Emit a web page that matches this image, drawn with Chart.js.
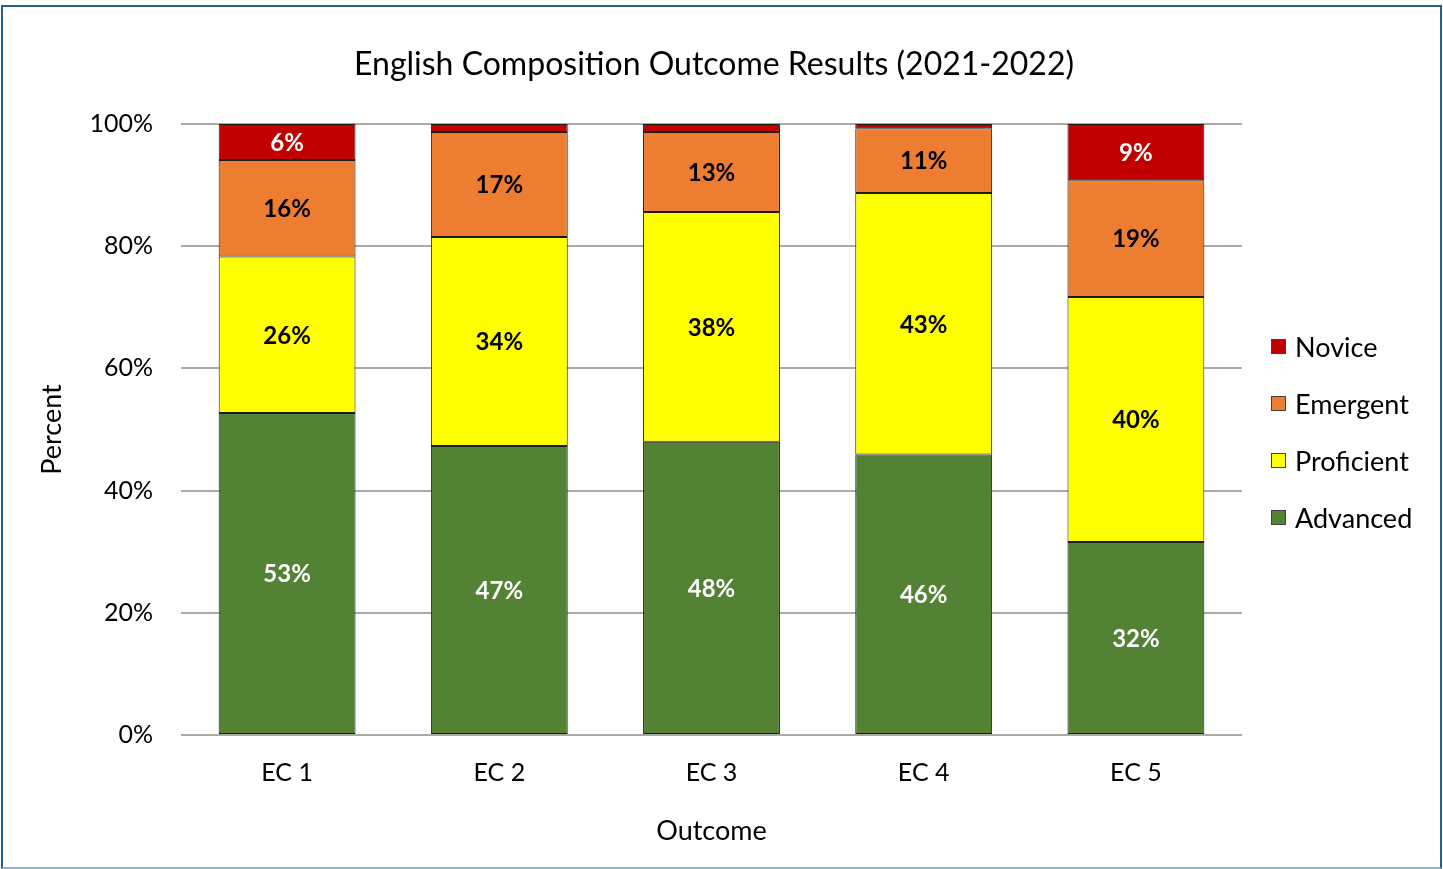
<!DOCTYPE html>
<html>
<head>
<meta charset="utf-8">
<script src="https://cdn.jsdelivr.net/npm/chart.js@4.4.1/dist/chart.umd.min.js"></script>
<style>
  html, body { margin: 0; padding: 0; background: #fff; }
  #wrap { position: relative; width: 1443px; height: 869px; }
  #c { position: absolute; left: 0; top: 0; }
  #frame { position: absolute; left: 1px; top: 5px; width: 1441px; height: 864px; box-sizing: border-box;
           border: 2px solid #1F5F99; border-bottom-color: #8FB3D3; pointer-events: none; }
</style>
</head>
<body>
<div id="wrap">
  <canvas id="c" width="1443" height="869"></canvas>
  <div id="frame"></div>
</div>
<script>
const categories = ["EC 1", "EC 2", "EC 3", "EC 4", "EC 5"];
const seriesNames = ["Advanced", "Proficient", "Emergent", "Novice"];
const advanced   = [52.7, 47.3, 48.0, 45.9, 31.6];
const proficient = [25.6, 34.2, 37.6, 42.8, 40.1];
const emergent   = [15.8, 17.2, 13.1, 10.6, 19.1];
const novice     = [5.9, 1.3, 1.3, 0.7, 9.2];
const yTicks = [0, 20, 40, 60, 80, 100];
const titleText = "English Composition Outcome Results (2021-2022)";
const xTitle = "Outcome";
const yTitle = "Percent";

const colors = ["#548235", "#FFFF00", "#ED7D31", "#C00000"];
const labelColors = ["#FFFFFF", "#000000", "#000000", "#FFFFFF"];
const FONT = "Lato, 'Open Sans', sans-serif";

const seriesData = [advanced, proficient, emergent, novice];

const dataLabelPlugin = {
  id: 'dataLabels',
  afterDatasetsDraw(chart) {
    const ctx = chart.ctx;
    ctx.save();
    ctx.font = "bold 24px " + FONT;
    ctx.textAlign = "center";
    ctx.textBaseline = "middle";
    chart.data.datasets.forEach((ds, i) => {
      const meta = chart.getDatasetMeta(i);
      meta.data.forEach((el, j) => {
        const v = ds.data[j];
        if (v < 4) return;
        const cy = (el.y + el.base) / 2 + 1;
        ctx.fillStyle = labelColors[i];
        ctx.fillText(Math.round(v) + "%", el.x, cy);
      });
    });
    ctx.restore();
  }
};

const legendPlugin = {
  id: 'customLegend',
  afterDraw(chart) {
    const ctx = chart.ctx;
    ctx.save();
    ctx.font = "27px " + FONT;
    ctx.textAlign = "left";
    ctx.textBaseline = "middle";
    const x0 = 1271, yStart = 347, gap = 57;
    const order = [3, 2, 1, 0];
    order.forEach((idx, k) => {
      const y = yStart + k * gap;
      ctx.fillStyle = colors[idx];
      ctx.fillRect(x0, y - 8, 15, 15);
      ctx.strokeStyle = "#404040";
      ctx.lineWidth = 1;
      ctx.strokeRect(x0 + 0.5, y - 7.5, 14, 14);
      ctx.fillStyle = "#000";
      ctx.fillText(seriesNames[idx], x0 + 24, y + 1);
    });
    ctx.restore();
  }
};

const titlePlugin = {
  id: 'customTitle',
  afterDraw(chart) {
    const ctx = chart.ctx;
    ctx.save();
    ctx.font = "32px " + FONT;
    ctx.textAlign = "center";
    ctx.textBaseline = "middle";
    ctx.fillStyle = "#000";
    ctx.fillText(titleText, 714, 65);
    ctx.restore();
  }
};

const bgPlugin = {
  id: 'bg',
  beforeDraw(chart) {
    const ctx = chart.ctx;
    ctx.save();
    ctx.fillStyle = "#fff";
    ctx.fillRect(0, 0, chart.width, chart.height);
    ctx.restore();
  }
};

new Chart(document.getElementById('c'), {
  type: 'bar',
  data: {
    labels: categories,
    datasets: seriesNames.map((name, i) => ({
      label: name,
      data: seriesData[i],
      backgroundColor: colors[i],
      borderColor: "#1a1a1a",
      borderWidth: 1,
      borderSkipped: false,
      categoryPercentage: 1.0,
      barPercentage: 0.645
    }))
  },
  options: {
    responsive: false,
    animation: false,
    devicePixelRatio: 1,
    layout: { padding: { left: 0, right: 201, top: 124, bottom: 0 } },
    plugins: {
      legend: { display: false },
      tooltip: { enabled: false },
      title: { display: false }
    },
    scales: {
      x: {
        stacked: true,
        grid: { display: false, drawTicks: false },
        border: { display: false },
        ticks: { color: "#000", font: { family: FONT, size: 25 }, padding: 23 },
        title: { display: true, text: xTitle, color: "#000", font: { family: FONT, size: 27 }, padding: { top: 0, bottom: 22 } },
        afterFit(scale) { scale.height = 134; }
      },
      y: {
        stacked: true,
        min: 0, max: 100,
        afterBuildTicks(scale) { scale.ticks = yTicks.map(v => ({ value: v })); },
        grid: { color: "#ADA9A5", lineWidth: 2, drawTicks: false },
        border: { display: false },
        ticks: { color: "#000", font: { family: FONT, size: 25 }, padding: 28, callback: v => v + "%" },
        title: { display: true, text: yTitle, color: "#000", font: { family: FONT, size: 27 }, padding: { top: 36, bottom: 0 } },
        afterFit(scale) { scale.width = 181; }
      }
    }
  },
  plugins: [bgPlugin, dataLabelPlugin, legendPlugin, titlePlugin]
});
</script>
</body>
</html>
